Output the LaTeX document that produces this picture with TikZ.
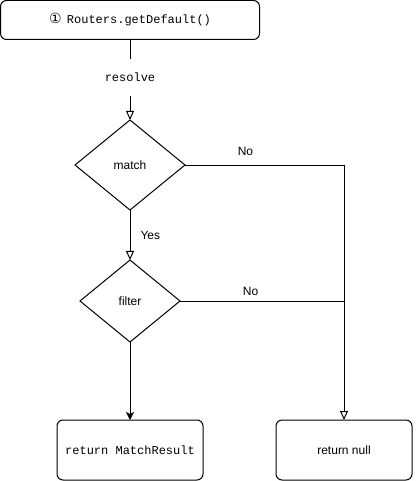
\documentclass[tikz,border=0pt]{standalone}
\usepackage{fontspec}
\setmainfont{Liberation Sans}
\newfontfamily\codefont{Liberation Mono}
\newfontfamily\symfont{DejaVu Sans}
\usetikzlibrary{shapes.geometric,arrows.meta}
\begin{document}
\begin{tikzpicture}[x=1pt, y=-1pt, line width=1pt, font=\fontsize{12}{14}\selectfont,
    box/.style={draw, rounded corners=6pt, inner sep=0pt, outer sep=0pt},
    decision/.style={draw, diamond, inner sep=0pt, outer sep=0pt},
    tag/.style={inner sep=1pt},
    openarrow/.style={-{Triangle[open, length=9pt, width=8pt]}},
    hitarrow/.style={-{Stealth[length=8pt, width=8pt, inset=2pt]}}]
    \useasboundingbox (0,0) rectangle (416,481);
    \node[box, minimum width=259pt, minimum height=39pt](getdefault) at (130, 20) {{\symfont\fontsize{14}{16}\selectfont ①}\, {\codefont Routers.getDefault()}};
    \node[decision, minimum width=110pt, minimum height=90pt](match) at (130, 165) {match};
    \node[decision, minimum width=100pt, minimum height=82pt](filter) at (130, 301) {filter};
    \node[box, minimum width=146pt, minimum height=60pt](result) at (130, 450) {\codefont return MatchResult};
    \node[box, minimum width=136pt, minimum height=60pt](null) at (344, 450) {return null};

    \draw[openarrow] (getdefault) -- node[tag, fill=white, minimum height=37pt, pos=0.47]{\codefont resolve} (match);
    \draw[openarrow] (match) -- node[tag, right=9pt]{Yes} (filter);
    \draw[openarrow] (match.east) -| node[tag, pos=0.19, yshift=14pt]{No} (null.north);
    \draw (filter.east) -- node[tag, pos=0.43, yshift=10pt]{No} (filter.east -| null.north);
    \draw[hitarrow] (filter) -- (result);
\end{tikzpicture}
\end{document}
